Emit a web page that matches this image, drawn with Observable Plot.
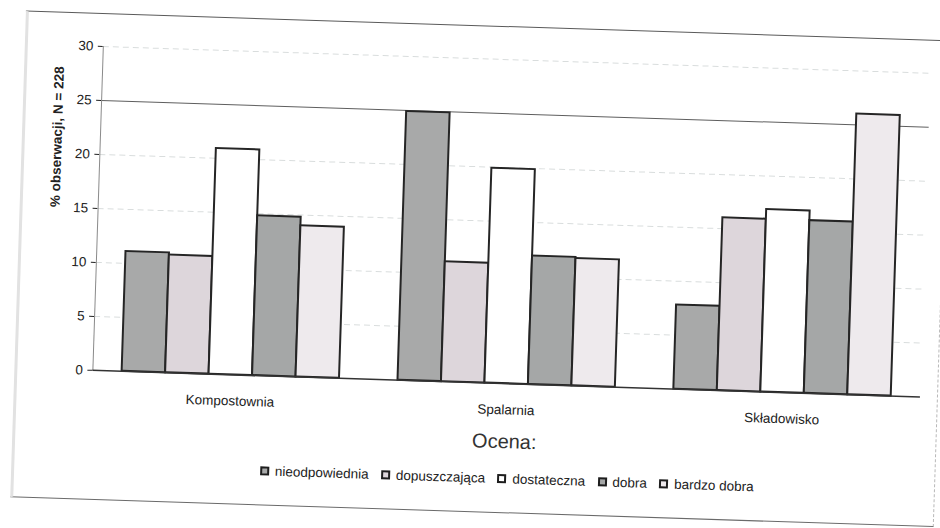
<!DOCTYPE html>
<html><head><meta charset="utf-8">
<script src="https://cdn.jsdelivr.net/npm/d3@7"></script>
<script src="https://cdn.jsdelivr.net/npm/@observablehq/plot@0.6"></script>
<style>
html,body{margin:0;padding:0;background:#fff;overflow:hidden;width:940px;height:528px;}
#page{position:relative;width:940px;height:528px;transform:rotate(1.85deg);transform-origin:470px 264px;font-family:Arial,"Liberation Sans",sans-serif;color:#222;}
#frame{position:absolute;left:18px;top:25px;width:924px;height:487px;box-sizing:border-box;border-top:1.5px solid #5a5a5a;border-bottom:1.5px solid #6a6a6a;border-left:3px solid #e2e2e2;border-right:1px dashed #b8b8b8;}
#chart{position:absolute;left:0;top:0;}
#title{position:absolute;left:410px;width:200px;top:428px;text-align:center;font-size:20px;line-height:24px;color:#333;}
#legend{position:absolute;left:51px;width:940px;top:461px;}
#legend div{justify-content:center;}
#legend svg{overflow:visible;}
#legend svg rect{stroke:#1e1e1e !important;stroke-width:2px !important;}
</style></head><body>
<div id="page"><div id="frame"></div><div id="chart"></div><div id="title"></div><div id="legend"></div></div>
<script>
const places = ["Kompostownia", "Spalarnia", "Składowisko"];
const ratings = ["nieodpowiednia", "dopuszczająca", "dostateczna", "dobra", "bardzo dobra"];
const kompostownia = [11.1, 10.9, 20.9, 14.8, 14.0];
const spalarnia = [24.9, 11.1, 19.9, 11.9, 11.8];
const skladowisko = [7.8, 16.0, 16.9, 16.0, 26.0];
const yTicks = [0, 5, 10, 15, 20, 25, 30];
const yLabel = "% obserwacji, N = 228";
const legendTitle = "Ocena:";
const fills = ["#a8a9a9", "#ddd6db", "#ffffff", "#a5a7a7", "#eeeaed"];

const series = [kompostownia, spalarnia, skladowisko];
const data = places.flatMap((p, gi) => ratings.map((r, si) => ({place: p, rating: r, value: series[gi][si], gi, si})));
const BW = 0.1576;
const font = "Arial, 'Liberation Sans', sans-serif";

const chart = Plot.plot({
  width: 940, height: 420,
  marginLeft: 96, marginRight: 16, marginTop: 58, marginBottom: 38,
  style: {fontFamily: font, fontSize: "13.5px", color: "#222", background: "transparent", overflow: "visible"},
  x: {type: "linear", domain: [-0.5, places.length - 0.5], ticks: places.map((_, i) => i), tickFormat: i => places[i], tickSize: 0, tickPadding: 21, label: null},
  y: {domain: [0, 30], ticks: yTicks, tickSize: 5, tickPadding: 5, label: null},
  color: {type: "ordinal", domain: ratings, range: fills},
  marks: [
    Plot.ruleY(yTicks.filter(t => t !== 0 && t !== 25), {stroke: "#d9dddd", strokeDasharray: "6,4", strokeWidth: 1}),
    Plot.ruleY([25], {stroke: "#5e5e5e", strokeWidth: 1}),
    Plot.ruleX([-0.5], {stroke: "#8a8a8a"}),
    Plot.rect(data, {x1: d => d.gi + (d.si - 2.5) * BW, x2: d => d.gi + (d.si - 1.5) * BW, y1: () => 0, y2: "value", fill: "rating", stroke: "#252525", strokeWidth: 2}),
    Plot.ruleY([0], {stroke: "#333", strokeWidth: 1.5}),
    Plot.text([yLabel], {text: d => d, frameAnchor: "left", dx: -43, rotate: -90, fontWeight: "bold", fontSize: 13.5, fill: "#222"})
  ]
});
document.getElementById("chart").appendChild(chart);
document.getElementById("title").textContent = legendTitle;

const leg = Plot.legend({
  color: {type: "ordinal", domain: ratings, range: fills},
  legend: "swatches", className: "lg", swatchSize: 7,
  style: {fontFamily: font, fontSize: "13.5px", color: "#222"}
});
document.getElementById("legend").appendChild(leg);
</script>
</body></html>
